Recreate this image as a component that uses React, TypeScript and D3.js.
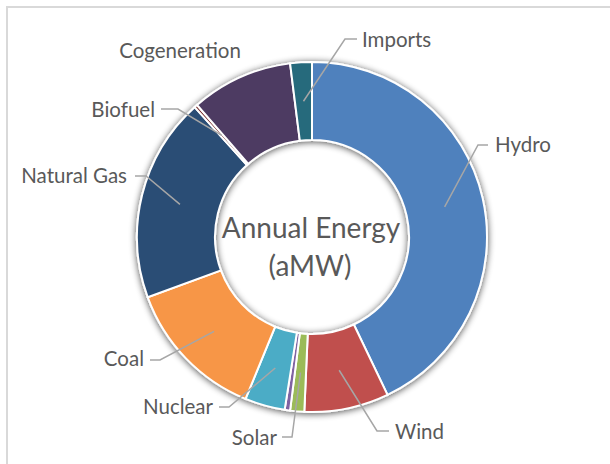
import React from "react";
import * as d3 from "d3";

const categories = ["Hydro", "Wind", "Solar", "Other", "Nuclear", "Coal", "Natural Gas", "Biofuel", "Cogeneration", "Imports"];
const shares = [42.9, 7.8, 1.3, 0.5, 3.7, 13.2, 18.9, 0.3, 9.4, 2.0];
const sliceColors = ["#4f81bd", "#c0504d", "#9bbb59", "#8064a2", "#4bacc6", "#f79646", "#2c4d75", "#772c2a", "#4d3b62", "#276a7c"];
const hiddenLabels = ["Other"];
const centerTitle = ["Annual Energy", "(aMW)"];

const width = 610;
const height = 464;
const cx = 312;
const cy = 237;
const outerR = 175;
const innerR = 97;

// where Excel put each label (text anchor point + leader elbow/end)
const labelLayout = {
  Hydro: { x: 495, y: 152, anchor: "start", elbow: [478, 145], end: [488, 145] },
  Wind: { x: 395, y: 439, anchor: "start", elbow: [377, 431], end: [389, 431] },
  Solar: { x: 277, y: 445, anchor: "end", elbow: [292, 437], end: [282, 437] },
  Nuclear: { x: 213, y: 414, anchor: "end", elbow: [229, 407], end: [219, 407] },
  Coal: { x: 144, y: 366, anchor: "end", elbow: [160, 360], end: [150, 360] },
  "Natural Gas": { x: 127, y: 183, anchor: "end", elbow: [146, 176], end: [135, 176] },
  Biofuel: { x: 155, y: 117, anchor: "end", elbow: [178, 109], end: [161, 109] },
  Cogeneration: { x: 180, y: 58, anchor: "middle", elbow: null, end: null },
  Imports: { x: 362, y: 47, anchor: "start", elbow: [345, 39], end: [357, 39] },
};

const App = () => {
  const pie = d3
    .pie<number>()
    .sort(null)
    .value((d) => d);
  const arcs = pie(shares);

  const arc = d3.arc<d3.PieArcDatum<number>>().innerRadius(innerR).outerRadius(outerR);
  const midArc = d3
    .arc<d3.PieArcDatum<number>>()
    .innerRadius((innerR + outerR) / 2)
    .outerRadius((innerR + outerR) / 2);

  const textColor = "#595959";
  const font = "Lato, 'Open Sans', sans-serif";

  return (
    <svg
      width={width}
      height={height}
      style={{ position: "absolute", left: 0, top: 0, background: "#fff" }}
    >
      <defs>
        <filter id="ringShadow" x="-20%" y="-20%" width="140%" height="140%">
          <feGaussianBlur in="SourceAlpha" stdDeviation="3.5" />
          <feOffset dx="0" dy="1" result="blur" />
          <feComponentTransfer>
            <feFuncA type="linear" slope="0.7" />
          </feComponentTransfer>
          <feMerge>
            <feMergeNode />
            <feMergeNode in="SourceGraphic" />
          </feMerge>
        </filter>
      </defs>

      {/* chart area border */}
      <rect x={7} y={7} width={width + 20} height={height + 20} fill="none" stroke="#d9d9d9" strokeWidth={2} />

      {/* donut */}
      <g transform={`translate(${cx},${cy})`} filter="url(#ringShadow)">
        {arcs.map((a, i) => (
          <path key={categories[i]} d={arc(a) || ""} fill={sliceColors[i]} stroke="#fff" strokeWidth={2} />
        ))}
      </g>

      {/* leader lines */}
      <g fill="none" stroke="#a6a6a6" strokeWidth={1.5}>
        {arcs.map((a, i) => {
          const lay = labelLayout[categories[i]];
          if (!lay || !lay.elbow || hiddenLabels.includes(categories[i])) return null;
          const [mx, my] = midArc.centroid(a);
          const pts = [[cx + mx, cy + my], lay.elbow, lay.end];
          return <path key={categories[i]} d={d3.line()(pts as [number, number][]) || ""} />;
        })}
      </g>

      {/* labels */}
      <g fontFamily={font} fontSize={20.5} fill={textColor}>
        {categories.map((c) => {
          if (hiddenLabels.includes(c)) return null;
          const lay = labelLayout[c];
          return (
            <text key={c} x={lay.x} y={lay.y} textAnchor={lay.anchor}>
              {c}
            </text>
          );
        })}
      </g>

      {/* centre title */}
      <g fontFamily={font} fontSize={28} fill={textColor} textAnchor="middle">
        <text x={cx - 1} y={238}>{centerTitle[0]}</text>
        <text x={cx - 2} y={276}>{centerTitle[1]}</text>
      </g>
    </svg>
  );
};

export default App;
